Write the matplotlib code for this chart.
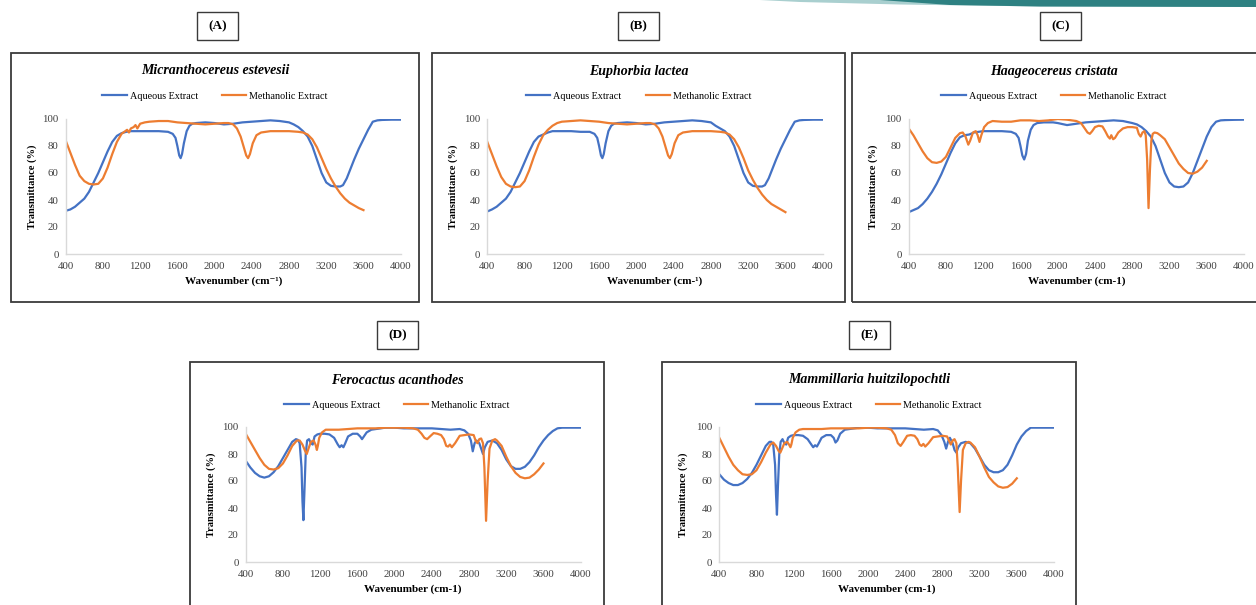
import matplotlib.pyplot as plt
from matplotlib.patches import Rectangle, Polygon

plt.rcParams['font.family'] = ['Liberation Serif', 'DejaVu Serif']

W, H = 1256, 605
BLUE = '#4472C4'
ORANGE = '#ED7D31'

# ---- data (wavenumber cm-1, transmittance %) ----
# (A) Micranthocereus estevesii
a_aq_wn = [400, 450, 500, 550, 600, 650, 700, 750, 800, 850, 900, 950, 1000, 1050, 1100, 1200, 1300, 1400,
           1500, 1550, 1580, 1600, 1620, 1635, 1650, 1670, 1700, 1730, 1760, 1800, 1900, 2000, 2100, 2200,
           2300, 2400, 2500, 2600, 2700, 2800, 2850, 2900, 2950, 3000, 3050, 3100, 3150, 3200, 3250, 3300,
           3350, 3380, 3420, 3460, 3500, 3550, 3600, 3650, 3700, 3750, 3800, 3900, 4000]
a_aq_t = [32, 33, 35, 38, 41, 46, 53, 60, 68, 76, 83, 87.5, 89.5, 90.5, 91, 91, 91, 91,
          90.5, 89, 86, 80, 73, 71, 74, 82, 91, 95, 96.5, 97, 97.5, 97, 96, 96.5,
          97.5, 98, 98.5, 99, 98.5, 97.5, 96, 94, 91, 87, 80, 70, 60, 53, 50.5, 50,
          50, 51, 56, 63, 70, 78, 85, 92, 98, 99, 99.3, 99.5, 99.5]
a_me_wn = [400, 450, 500, 550, 600, 650, 700, 750, 800, 850, 900, 950, 1000, 1040, 1060, 1080, 1100, 1130,
           1150, 1170, 1200, 1250, 1300, 1400, 1500, 1600, 1700, 1800, 1900, 2000, 2100, 2150, 2200, 2240,
           2280, 2310, 2340, 2360, 2380, 2410, 2450, 2500, 2550, 2600, 2700, 2800, 2900, 2950, 3000, 3050,
           3100, 3150, 3200, 3250, 3300, 3350, 3400, 3450, 3500, 3550, 3600]
a_me_t = [84, 75, 66, 58, 54, 52, 51.5, 52, 56, 64, 74, 83, 89, 91, 92, 90, 93, 94,
          95.5, 93, 96.5, 97.5, 98, 98.5, 98.5, 97.5, 97, 96.5, 96, 96.5, 97, 97, 96, 93,
          87, 80, 73, 71, 74, 82, 88, 90, 90.5, 91, 91, 91, 90.5, 90, 88.5, 85,
          79, 71, 63, 56, 50, 45, 41, 38, 36, 34, 32.5]

# (B) Euphorbia lactea
b_aq_wn = a_aq_wn
b_aq_t = [31.5, 33, 35, 38, 41, 46, 53, 60, 68, 76, 83, 87, 88.5, 90, 91, 91, 91, 90.5,
          90.5, 89, 86, 80, 73, 71, 74, 82, 91, 95, 96.5, 97, 97.5, 97, 96, 96.5,
          97.5, 98, 98.5, 99, 98.5, 97.5, 95, 93, 91, 87, 80, 70, 60, 53, 50.5, 50,
          50, 51, 56, 63, 70, 78, 85, 92, 98, 99, 99.3, 99.5, 99.5]
b_me_wn = [400, 450, 500, 550, 600, 650, 700, 750, 800, 850, 900, 950, 1000, 1050, 1100, 1150, 1200, 1300,
           1400, 1500, 1600, 1700, 1800, 1900, 2000, 2100, 2150, 2200, 2240, 2280, 2310, 2340, 2360, 2380,
           2410, 2450, 2500, 2550, 2600, 2700, 2800, 2900, 2950, 3000, 3050, 3100, 3150, 3200, 3250, 3300,
           3350, 3400, 3450, 3500, 3550, 3600]
b_me_t = [83, 74, 65, 57, 52, 50, 49.5, 50, 54, 62, 72, 81, 88, 92, 95, 97, 98, 98.5,
          99, 98.5, 98, 97, 96.5, 96, 96.5, 97, 97, 96, 93, 87, 80, 73, 71, 74,
          82, 88, 90, 90.5, 91, 91, 91, 90.5, 90, 88.5, 85, 79, 71, 62, 55, 49,
          44, 40, 37, 35, 33, 31]

# (C) Haageocereus cristata
c_aq_wn = [400, 450, 500, 550, 600, 650, 700, 750, 800, 850, 900, 950, 1000, 1050, 1100, 1200, 1300, 1400,
           1500, 1550, 1580, 1600, 1620, 1640, 1660, 1680, 1710, 1740, 1780, 1850, 1950, 2000, 2100, 2200,
           2300, 2400, 2500, 2600, 2700, 2800, 2850, 2900, 2950, 3000, 3050, 3100, 3150, 3200, 3250, 3300,
           3350, 3400, 3450, 3500, 3550, 3600, 3650, 3700, 3750, 3800, 3900, 4000]
c_aq_t = [31, 32.5, 34, 37, 41, 46, 52, 59, 67, 75, 82, 86.5, 88, 88.5, 90, 91, 91, 91,
          90.5, 89, 86, 80, 73, 70, 74, 84, 92, 95.5, 97, 97.5, 97.5, 97, 95.5, 96.5,
          97.5, 98, 98.5, 99, 98.5, 97, 96, 94, 91, 87, 80, 70, 60, 53, 50, 49.5,
          50, 53, 60, 69, 78, 87, 94, 98, 99, 99.2, 99.4, 99.5]
c_me_wn = [400, 450, 500, 550, 600, 650, 700, 750, 800, 850, 900, 950, 980, 1010, 1040, 1060, 1090, 1120,
           1140, 1160, 1180, 1210, 1250, 1300, 1400, 1500, 1600, 1700, 1800, 1900, 2000, 2100, 2200, 2250,
           2290, 2320, 2345, 2370, 2400, 2440, 2480, 2510, 2540, 2560, 2575, 2595, 2615, 2650, 2700, 2750,
           2800, 2850, 2870, 2890, 2910, 2930, 2945, 2960, 2975, 2990, 3005, 3020, 3040, 3070, 3100, 3150,
           3200, 3250, 3300, 3350, 3400, 3450, 3500, 3550, 3600]
c_me_t = [93, 88, 82, 76, 71, 68, 67.5, 68.5, 72, 79, 86, 89.5, 90, 87, 81, 84, 90, 91,
          88, 83, 88, 94, 97, 98.5, 98, 98, 99, 99, 98.5, 99, 100, 99.5, 98.5, 97,
          93, 90, 89, 91, 94, 95, 94.5, 91, 87, 85.5, 88, 85, 86, 90, 93, 94,
          94, 93.5, 89, 87, 90, 91, 88, 70, 34, 62, 84, 89, 90, 89.5, 88, 85,
          79, 73, 67, 63, 60, 59.5, 61, 64, 69]

# (D) Ferocactus acanthodes
d_aq_wn = [400, 450, 500, 550, 600, 650, 700, 750, 800, 850, 900, 940, 960, 980, 1000, 1010, 1020, 1030,
           1045, 1060, 1080, 1100, 1120, 1140, 1170, 1200, 1250, 1300, 1350, 1390, 1410, 1430, 1450, 1470,
           1500, 1550, 1600, 1630, 1650, 1670, 1700, 1750, 1800, 1900, 2000, 2100, 2200, 2300, 2400, 2500,
           2600, 2700, 2750, 2790, 2820, 2840, 2860, 2880, 2910, 2930, 2950, 2970, 3000, 3050, 3100, 3150,
           3200, 3250, 3300, 3350, 3400, 3450, 3500, 3550, 3600, 3650, 3700, 3750, 3800, 3900, 4000]
d_aq_t = [75, 70, 66, 63.5, 62.5, 63.5, 66.5, 71, 77, 83, 89, 91, 90.5, 88, 70, 45, 31, 50,
          80, 90, 91, 88, 87, 93, 94.5, 95, 95, 94.5, 92, 87, 85, 86.5, 85, 88,
          93, 95, 95, 93, 91, 93, 96, 98, 98.5, 99.5, 99.5, 99, 99, 99, 99, 98.5,
          98, 98.5, 97.5, 95, 90, 82, 88, 90, 88, 84, 80, 85, 89, 90, 88, 83,
          76, 71, 69, 69, 70.5, 74, 79, 85, 90, 94, 97, 99, 99.5, 99.5, 99.5]
d_me_wn = [400, 450, 500, 550, 600, 650, 700, 750, 800, 850, 900, 950, 980, 1010, 1040, 1056, 1075, 1100,
           1130, 1150, 1165, 1175, 1190, 1220, 1260, 1300, 1400, 1500, 1600, 1700, 1800, 1900, 2000, 2100,
           2200, 2250, 2290, 2320, 2350, 2380, 2420, 2460, 2500, 2530, 2555, 2575, 2595, 2615, 2650, 2700,
           2800, 2850, 2870, 2890, 2910, 2930, 2950, 2965, 2983, 3000, 3020, 3050, 3080, 3100, 3150, 3200,
           3250, 3300, 3350, 3400, 3450, 3500, 3550, 3600]
d_me_t = [95, 89, 83, 77, 72, 69, 68.5, 69.5, 73, 79, 86, 90, 90, 87, 82, 80, 84, 89,
          90, 87, 83, 86, 92, 96, 98, 98, 98, 98.5, 99, 99, 99, 99.5, 99.5, 99.5,
          99, 98, 95, 92, 91, 93, 95.5, 95, 94, 91, 86, 85.5, 87, 85, 88, 93.5,
          94.5, 94, 90, 88, 91, 91.5, 88, 70, 30.5, 60, 84, 90, 91, 90, 86, 78,
          71, 66, 63, 62, 62.5, 65, 68.5, 73]

# (E) Mammillaria huitzilopochtli
e_aq_wn = d_aq_wn
e_aq_t = [65, 61, 58.5, 57, 57, 58.5, 61.5, 66, 72, 79, 86, 89, 89, 87, 72, 50, 35, 55,
          80, 89, 91, 88, 87, 92, 93.5, 94, 94, 93.5, 91, 87, 85, 86.5, 85.5, 88,
          92, 94, 94, 92, 88.5, 90, 95, 98, 98.5, 99.5, 99.5, 99, 99, 99, 99, 98.5,
          98, 98.5, 97.5, 94, 89, 84, 89, 92, 88, 83, 81, 85, 88, 89, 88, 84,
          78, 72, 68, 66.5, 66.5, 68, 72, 79, 87, 93, 97, 99.5, 99.5, 99.5, 99.5]
e_me_wn = [400, 450, 500, 550, 600, 650, 700, 750, 800, 850, 900, 950, 980, 1010, 1040, 1056, 1075, 1100,
           1130, 1150, 1165, 1175, 1190, 1220, 1260, 1300, 1400, 1500, 1600, 1700, 1800, 1900, 2000, 2100,
           2200, 2250, 2290, 2320, 2350, 2380, 2420, 2460, 2500, 2530, 2555, 2575, 2595, 2615, 2650, 2700,
           2800, 2850, 2870, 2890, 2910, 2930, 2950, 2965, 2985, 3000, 3020, 3050, 3080, 3100, 3150, 3200,
           3250, 3300, 3350, 3400, 3450, 3500, 3550, 3600]
e_me_t = [92, 85, 78, 72, 68, 65, 64.5, 65, 68, 74, 81, 87, 88.5, 86, 82, 81, 84, 88,
          89, 87, 85, 87, 92, 96, 98, 98.5, 98.5, 98.5, 99, 99, 99, 99, 99.5, 99.5,
          99, 98, 94, 88, 86, 89, 93.5, 94, 93.5, 91, 87, 86, 87.5, 85.5, 88, 92.5,
          93.5, 93, 90, 87, 90, 91, 88, 70, 37, 60, 83, 88, 89, 88.5, 85, 78,
          70, 63, 59, 56, 55, 55.5, 58, 62]

x_ticks = list(range(400, 4001, 400))
y_ticks = list(range(0, 101, 20))

fig = plt.figure(figsize=(W / 100, H / 100), dpi=100)


def fx(px):
    return px / W


def fy(py):
    return 1 - py / H


def frame(x0, y0, x1, y1, lw, color):
    fig.patches.append(Rectangle((fx(x0), fy(y1)), (x1 - x0) / W, (y1 - y0) / H,
                                 transform=fig.transFigure, fill=False, ec=color, lw=lw))


def panel(box, axbox, tag, tagbox, title, xlabel, aq, me):
    x0, y0, x1, y1 = box
    frame(x0, y0, x1, y1, 1.3, '#3a3a3a')
    tx0, ty0, tx1, ty1 = tagbox
    frame(tx0, ty0, tx1, ty1, 1.0, '#3a3a3a')
    fig.text(fx((tx0 + tx1) / 2), fy((ty0 + ty1) / 2), tag, ha='center', va='center',
             fontsize=9.5, fontweight='bold')
    cx = (x0 + x1) / 2 if x1 < W else (x0 + 1260) / 2 - 2
    fig.text(fx(cx), fy(y0 + 18), title, ha='center', va='center', fontsize=10,
             fontweight='bold', fontstyle='italic')

    ax0, ay0, ax1, ay1 = axbox
    ax = fig.add_axes([fx(ax0), fy(ay1), (ax1 - ax0) / W, (ay1 - ay0) / H])
    ax.plot(aq[0], aq[1], color=BLUE, lw=1.6, label='Aqueous Extract')
    ax.plot(me[0], me[1], color=ORANGE, lw=1.6, label='Methanolic Extract')
    ax.set_xlim(400, 4000)
    ax.set_ylim(0, 100)
    ax.set_xticks(x_ticks)
    ax.set_yticks(y_ticks)
    ax.tick_params(length=0, labelsize=7.8, colors='#3f3f3f')
    ax.tick_params(axis='x', pad=6)
    ax.tick_params(axis='y', pad=5)
    for s in ['top', 'right']:
        ax.spines[s].set_visible(False)
    for s in ['left', 'bottom']:
        ax.spines[s].set_color('#d9d9d9')
        ax.spines[s].set_linewidth(1.0)
    ax.text(0.5, -0.2, xlabel, transform=ax.transAxes, ha='center', va='center',
            fontsize=8, fontweight='bold')
    ax.text((x0 + 21 - ax0) / (ax1 - ax0), 0.5, 'Transmittance (%)', transform=ax.transAxes,
            ha='center', va='center', rotation=90, fontsize=7.5, fontweight='bold')
    ax.legend(loc='center', bbox_to_anchor=(fx(cx), fy(y0 + 43)), bbox_transform=fig.transFigure,
              ncol=2, frameon=False, fontsize=7.3, handlelength=2.4, columnspacing=2.4,
              handletextpad=0.3, borderpad=0)


panel((11, 53, 419, 302), (65.7, 119, 400.7, 254), '(A)', (197, 12, 238, 40),
      'Micranthocereus estevesii', 'Wavenumber (cm⁻¹)', (a_aq_wn, a_aq_t), (a_me_wn, a_me_t))
panel((432, 53, 845, 302), (487.3, 119, 822.7, 254), '(B)', (618, 12, 659, 40),
      'Euphorbia lactea', 'Wavenumber (cm-¹)', (b_aq_wn, b_aq_t), (b_me_wn, b_me_t))
panel((852, 53, 1262, 302), (908.7, 119, 1244, 254), '(C)', (1040, 12, 1081, 40),
      'Haageocereus cristata', 'Wavenumber (cm-1)', (c_aq_wn, c_aq_t), (c_me_wn, c_me_t))
panel((190, 362, 604, 612), (245.7, 427, 580.7, 562), '(D)', (377, 321, 418, 349),
      'Ferocactus acanthodes', 'Wavenumber (cm-1)', (d_aq_wn, d_aq_t), (d_me_wn, d_me_t))
panel((662, 362, 1076, 612), (719.3, 427, 1054, 562), '(E)', (849, 321, 890, 349),
      'Mammillaria huitzilopochtli', 'Wavenumber (cm-1)', (e_aq_wn, e_aq_t), (e_me_wn, e_me_t))

# decorative teal band at the top right
fig.patches.append(Polygon([(fx(760), fy(0)), (fx(1256), fy(0)), (fx(1256), fy(7)),
                            (fx(1040), fy(6.5)), (fx(900), fy(4.5)), (fx(800), fy(2))],
                           closed=True, transform=fig.transFigure, fc='#a9cfcf', ec='none'))
fig.patches.append(Polygon([(fx(880), fy(0)), (fx(1256), fy(0)), (fx(1256), fy(7)),
                            (fx(1040), fy(6.5)), (fx(950), fy(5))],
                           closed=True, transform=fig.transFigure, fc='#2e8182', ec='none'))

fig.savefig('out.png', dpi=100)
